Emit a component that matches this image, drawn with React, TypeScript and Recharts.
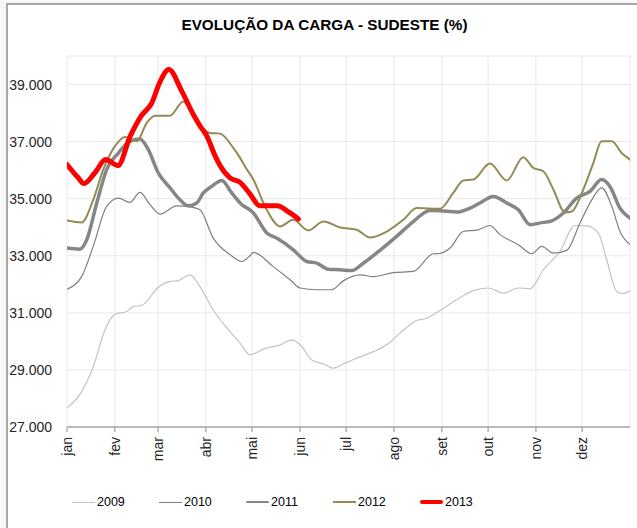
import React from 'react';
import { LineChart, Line, XAxis, YAxis, CartesianGrid } from 'recharts';

const MONTHS = ['jan', 'fev', 'mar', 'abr', 'mai', 'jun', 'jul', 'ago', 'set', 'out', 'nov', 'dez'];
const MONTH_START_DAYS = [0, 31, 59, 90, 120, 151, 181, 212, 243, 273, 304, 334];
const Y_TICKS = [27, 29, 31, 33, 35, 37, 39];
const TITLE = 'EVOLUÇÃO DA CARGA - SUDESTE (%)';

const days2009 = [0, 9.5, 17, 24.6, 31.1, 38.7, 43, 48.4, 59.2, 66.8, 72.2, 79.7, 86.2, 94.8, 105.7, 112.2, 118.6, 127.3, 138.1, 145.7, 152.2, 158.6, 166.2, 172.6, 179.1, 187.8, 198.6, 207.3, 215.9, 226.7, 233.2, 241.8, 252.6, 263.4, 273.1, 282.9, 292.6, 300.2, 308.8, 319.6, 329.3, 336.9, 344.4, 349.9, 356.4, 360.6, 365];
const vals2009 = [27.66, 28.24, 29.11, 30.4, 30.95, 31.05, 31.22, 31.26, 31.9, 32.1, 32.13, 32.33, 31.92, 31.1, 30.34, 29.94, 29.53, 29.73, 29.88, 30.05, 29.82, 29.35, 29.21, 29.06, 29.21, 29.41, 29.64, 29.88, 30.29, 30.73, 30.81, 31.08, 31.46, 31.78, 31.87, 31.69, 31.87, 31.84, 32.51, 33.15, 34.06, 34.05, 33.8, 32.86, 31.75, 31.67, 31.78];

const days2010 = [0, 9.5, 17, 25.7, 33.3, 40.8, 47.3, 53.8, 60.3, 71.1, 80.8, 86.2, 94.8, 105.7, 113.3, 118.6, 120.8, 133.7, 144.6, 151.1, 161.9, 171.6, 179.1, 190, 198.6, 211.5, 224.5, 237.5, 241.8, 248.3, 256.9, 266.6, 274.2, 280.7, 292.6, 301.3, 307.7, 315.3, 324, 332.6, 340.2, 346.6, 353.2, 358.5, 365];
const vals2010 = [31.83, 32.27, 33.33, 34.73, 35.02, 34.87, 35.22, 34.79, 34.46, 34.75, 34.7, 34.61, 33.62, 33.04, 32.8, 33.0, 33.12, 32.62, 32.16, 31.87, 31.81, 31.81, 32.12, 32.33, 32.27, 32.41, 32.45, 33.07, 33.08, 33.27, 33.85, 33.91, 34.06, 33.74, 33.39, 33.07, 33.33, 33.09, 33.19, 34.15, 34.96, 35.38, 34.73, 33.85, 33.39];

const days2011 = [0, 8.4, 12.8, 19.3, 25.7, 33.3, 40.8, 47.3, 52.7, 59.2, 66.8, 73.3, 78.6, 84.1, 88.4, 93.8, 100.3, 106.8, 113.3, 118.6, 120.8, 129.5, 135.9, 146.7, 155.4, 161.9, 169.4, 177, 184.6, 192.1, 202.9, 213.7, 224.5, 235.3, 241.8, 252.6, 261.3, 267.7, 276.4, 285.1, 292.6, 300.2, 308.8, 313.1, 321.8, 330.4, 339.1, 346.6, 352, 358.5, 365];
const vals2011 = [33.27, 33.23, 33.56, 34.85, 36.02, 36.6, 37.01, 37.09, 36.72, 35.9, 35.38, 34.96, 34.75, 34.85, 35.2, 35.43, 35.64, 35.2, 34.79, 34.61, 34.5, 33.8, 33.62, 33.21, 32.8, 32.74, 32.53, 32.51, 32.48, 32.74, 33.19, 33.68, 34.2, 34.59, 34.58, 34.53, 34.67, 34.85, 35.08, 34.85, 34.61, 34.09, 34.17, 34.2, 34.5, 35.02, 35.26, 35.67, 35.43, 34.67, 34.32];

const days2012 = [0, 9.5, 17, 23.5, 31.1, 37.6, 45.2, 51.7, 57, 66.8, 75.4, 81.9, 92.7, 99.2, 107.8, 112.2, 115.4, 120.8, 129.5, 138.1, 146.7, 156.4, 166.2, 177, 187.8, 196.4, 207.3, 218, 226.7, 241.8, 250.4, 256.9, 263.4, 274.2, 285.1, 295.8, 302.3, 308.8, 315.3, 322.9, 327.2, 334.7, 341.2, 346.6, 353.2, 359.6, 365];
const vals2012 = [34.24, 34.17, 34.96, 36.02, 36.84, 37.16, 37.01, 37.66, 37.91, 37.91, 38.41, 37.89, 37.3, 37.28, 36.78, 36.43, 36.13, 35.67, 34.61, 34.03, 34.26, 33.89, 34.2, 33.99, 33.91, 33.64, 33.85, 34.26, 34.67, 34.65, 35.2, 35.64, 35.67, 36.23, 35.64, 36.45, 36.08, 35.96, 35.32, 34.52, 34.55, 35.32, 36.25, 37.01, 37.01, 36.6, 36.37];

const days2013 = [0, 7, 11, 18, 25, 33, 41, 48, 55, 60, 66, 74.4, 81.9, 86.2, 90.6, 96, 99.2, 105.7, 112, 118.6, 125, 136, 144.6, 150];
const vals2013 = [36.2, 35.75, 35.53, 35.9, 36.37, 36.16, 37.19, 37.89, 38.36, 39.06, 39.53, 38.77, 37.95, 37.55, 37.2, 36.5, 36.16, 35.73, 35.58, 35.17, 34.75, 34.75, 34.5, 34.29];

const toPoints = (days: number[], vals: number[]) => days.map((d, i) => ({ d, v: vals[i] }));

const SERIES = [
  { name: '2009', data: toPoints(days2009, vals2009), color: '#c3c3c3', width: 1.2 },
  { name: '2010', data: toPoints(days2010, vals2010), color: '#7f7f7f', width: 1.2 },
  { name: '2011', data: toPoints(days2011, vals2011), color: '#868686', width: 3.5 },
  { name: '2012', data: toPoints(days2012, vals2012), color: '#948a54', width: 2 },
  { name: '2013', data: toPoints(days2013, vals2013), color: '#ff0000', width: 5 },
];

const FONT = '"Liberation Sans", Arial, sans-serif';

const MonthTick = (props: any) => {
  const { x, y, payload } = props;
  const idx = MONTH_START_DAYS.indexOf(payload.value);
  return (
    <g transform={`translate(${x},${y + 3}) rotate(-90)`}>
      <text x={0} y={0} dy="0.35em" textAnchor="end" fill="#262626" fontSize={14} fontFamily={FONT}>
        {idx >= 0 ? MONTHS[idx] : ''}
      </text>
    </g>
  );
};

export default function App() {
  return (
    <div style={{ position: 'absolute', left: 0, top: 0, width: 637, height: 528, background: '#f7f7f7', overflow: 'hidden' }}>
      <div
        style={{
          position: 'absolute',
          left: 6,
          top: 3,
          width: 650,
          height: 540,
          background: '#ffffff',
          borderLeft: '2px solid #a8a8a8',
          borderTop: '2px solid #a8a8a8',
        }}
      />
      <div
        style={{
          position: 'absolute',
          left: 0,
          width: 649,
          top: 16,
          textAlign: 'center',
          fontFamily: FONT,
          fontWeight: 'bold',
          fontSize: 15.3,
          color: '#000',
        }}
      >
        {TITLE}
      </div>
      <div style={{ position: 'absolute', left: 0, top: 0 }}>
        <LineChart width={637} height={528} margin={{ top: 56, right: 7, bottom: 61, left: 7 }}>
          <CartesianGrid stroke="#e8e8e8" strokeWidth={1} />
          <XAxis
            dataKey="d"
            type="number"
            domain={[0, 365]}
            ticks={MONTH_START_DAYS}
            interval={0}
            height={40}
            stroke="#a6a6a6"
            strokeWidth={1.3}
            tickSize={5}
            tick={<MonthTick />}
            allowDataOverflow
          />
          <YAxis
            type="number"
            domain={[27, 40]}
            ticks={Y_TICKS}
            interval={0}
            width={60}
            axisLine={false}
            tickLine={false}
            tickSize={0}
            tickMargin={15}
            tickFormatter={(v: number) => `${v}.000`}
            tick={{ fill: '#262626', fontSize: 14, fontFamily: FONT }}
            allowDataOverflow
          />
          {SERIES.map((s) => (
            <Line
              key={s.name}
              data={s.data}
              dataKey="v"
              name={s.name}
              type="monotone"
              stroke={s.color}
              strokeWidth={s.width}
              dot={false}
              activeDot={false}
              isAnimationActive={false}
              strokeLinejoin="round"
              strokeLinecap="round"
            />
          ))}
        </LineChart>
      </div>
      {SERIES.map((s, i) => (
        <div
          key={s.name}
          style={{
            position: 'absolute',
            left: 72 + i * 87,
            top: 493,
            height: 18,
            display: 'flex',
            alignItems: 'center',
            fontFamily: FONT,
            fontSize: 12.5,
            color: '#000',
          }}
        >
          <div style={{ width: 23, height: Math.max(1, s.width * 0.8), background: s.color, borderRadius: s.width > 3 ? 3 : 0, marginRight: 2 }} />
          <span>{s.name}</span>
        </div>
      ))}
    </div>
  );
}
